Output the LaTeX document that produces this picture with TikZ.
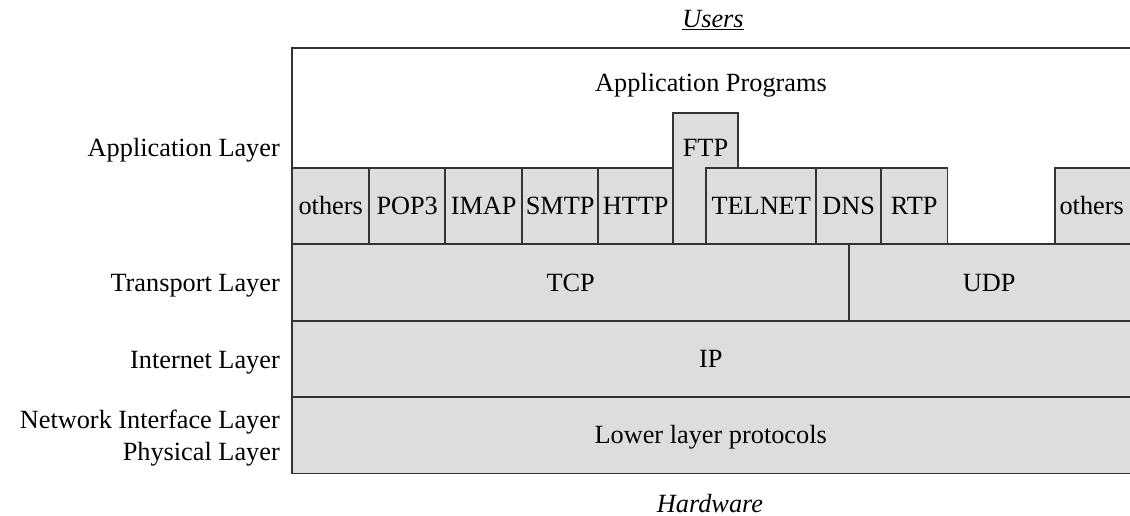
\documentclass[tikz,border=0pt]{standalone}
\usepackage{fontspec}
\setmainfont{Liberation Serif}
\definecolor{boxfill}{HTML}{DDDDDD}
\definecolor{boxline}{HTML}{333333}
\begin{document}
\begin{tikzpicture}[x=1pt,y=-1pt,
  every node/.style={font=\fontsize{26.3}{31}\selectfont, inner sep=0pt},
  layerbox/.style={fill=boxfill, anchor=north west, text height=17pt, text depth=0pt},
  edge/.style={draw=boxline, line width=1.5pt},
  sidelabel/.style={anchor=base east, align=right}]
\useasboundingbox (0,0) rectangle (1130,516);

% outer frame: the application programs area
\node[fill=white, anchor=north west, minimum width=840pt, minimum height=425pt] (frame) at (292,48) {};
\node[anchor=base] (apps) at (711,92) {Application Programs};

% application protocols
\node[layerbox, minimum width=77pt, minimum height=76pt] (oth1) at (292,168) {others};
\node[layerbox, minimum width=76pt, minimum height=76pt] (pop3) at (369,168) {POP3};
\node[layerbox, minimum width=77pt, minimum height=76pt] (imap) at (445,168) {IMAP};
\node[layerbox, minimum width=76pt, minimum height=76pt] (smtp) at (522,168) {SMTP};
\node[layerbox, minimum width=75pt, minimum height=76pt] (http) at (598,168) {HTTP};
\fill[boxfill] (673,244) -- (673,113) -- (738,113) -- (738,168) -- (706,168) -- (706,244) -- cycle;
\node[anchor=base] (ftp) at (705.5,157) {FTP};
\node[layerbox, minimum width=110pt, minimum height=76pt] (telnet) at (706,168) {TELNET};
\node[layerbox, minimum width=65pt, minimum height=76pt] (dns) at (816,168) {DNS};
\node[layerbox, minimum width=66pt, minimum height=76pt] (rtp) at (881,168) {RTP};
\node[layerbox, minimum width=77pt, minimum height=76pt] (oth2) at (1055,168) {\hspace*{-4pt}others};

% transport, internet and lower layers
\node[layerbox, minimum width=557pt, minimum height=77pt] (tcp) at (292,244) {TCP};
\node[layerbox, minimum width=283pt, minimum height=77pt] (udp) at (849,244) {\hspace*{-3pt}UDP};
\node[layerbox, minimum width=840pt, minimum height=76pt] (ip) at (292,321) {\hspace*{-3pt}IP};
\node[layerbox, minimum width=840pt, minimum height=76pt] (lower) at (292,397) {\hspace*{-3pt}Lower layer protocols};

% outlines, drawn over all the fills
\foreach \b in {frame,oth1,pop3,imap,smtp,http,telnet,dns,rtp,oth2,tcp,udp,ip,lower}
  \draw[edge] (\b.north west) rectangle (\b.south east);
\draw[edge] (673,244) -- (673,113) -- (738,113) -- (738,168) -- (706,168) -- (706,244) -- cycle;

% layer names
\node[sidelabel] (lapp) at (280,157) {Application Layer};
\node[sidelabel] (ltrans) at (280,291) {Transport Layer};
\node[sidelabel] (linet) at (280,368) {Internet Layer};
\node[sidelabel] (lnet) at (280,428) {Network Interface Layer};
\node[sidelabel] (lphys) at (280,460) {Physical Layer};

% top and bottom
\node[anchor=base] (users) at (713,28) {\underline{\textit{Users}}};
\node[anchor=base] (hw) at (710,512) {\textit{Hardware}};
\end{tikzpicture}
\end{document}
